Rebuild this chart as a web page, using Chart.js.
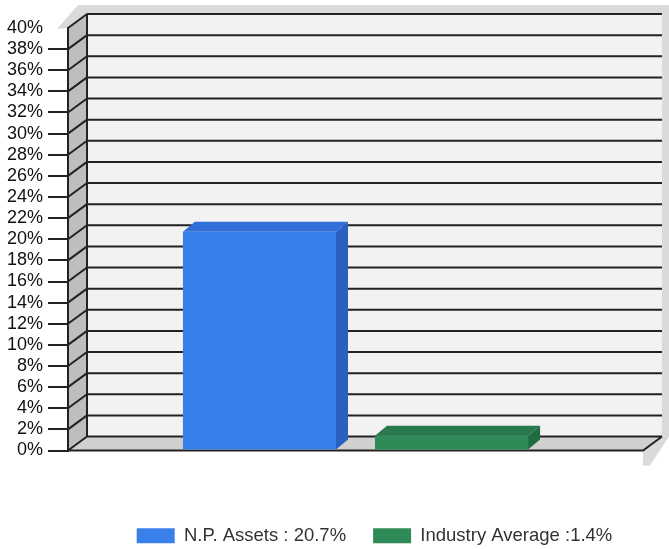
<!DOCTYPE html>
<html>
<head>
<meta charset="utf-8">
<script src="https://cdn.jsdelivr.net/npm/chart.js@4"></script>
<style>
  html, body { margin: 0; padding: 0; background: #fff; }
</style>
</head>
<body>
<canvas id="returnChart" width="669" height="549"></canvas>
<script>
// data
const categories = ['N.P. Assets'];
const seriesLabels = ['N.P. Assets : 20.7%', 'Industry Average :1.4%'];
const npAssets = [20.7];
const industryAverage = [1.4];
const yMin = 0;
const yMax = 40;
const yStep = 2;

// 3D depth of the box and of the bars
const wallDx = 19, wallDy = -14;
const barDx = 12, barDy = -10;
const lineColor = '#222';

const boxPlugin = {
    id: 'box3d',
    afterLayout(chart) {
        // nudge legend to where the original sits
        const lg = chart.legend;
        lg.left += 53; lg.right += 53;
        lg.top += 6; lg.bottom += 6;
    },
    beforeDraw(chart) {
        const ctx = chart.ctx;
        const a = chart.chartArea;
        const y = chart.scales.y;
        const L = a.left, R = a.right, T = a.top, B = a.bottom;

        ctx.save();
        // soft shadow around the box
        ctx.fillStyle = '#dadada';
        ctx.beginPath();
        ctx.moveTo(L - 11, T + 1);
        ctx.lineTo(L + 10, T + wallDy - 9);
        ctx.lineTo(669, T + wallDy - 9);
        ctx.lineTo(669, B + wallDy);
        ctx.lineTo(R + 7, B + 15);
        ctx.lineTo(R, B + 15);
        ctx.lineTo(R, B);
        ctx.lineTo(L, B);
        ctx.lineTo(L, T);
        ctx.closePath();
        ctx.fill();

        // back wall
        ctx.fillStyle = '#f2f2f2';
        ctx.fillRect(L + wallDx, T + wallDy, R - L, B - T);

        // left wall
        ctx.fillStyle = '#bebebe';
        ctx.beginPath();
        ctx.moveTo(L, B);
        ctx.lineTo(L, T);
        ctx.lineTo(L + wallDx, T + wallDy);
        ctx.lineTo(L + wallDx, B + wallDy);
        ctx.closePath();
        ctx.fill();

        // floor
        ctx.fillStyle = '#d0d0d0';
        ctx.beginPath();
        ctx.moveTo(L, B);
        ctx.lineTo(R, B);
        ctx.lineTo(R + wallDx, B + wallDy);
        ctx.lineTo(L + wallDx, B + wallDy);
        ctx.closePath();
        ctx.fill();

        ctx.strokeStyle = lineColor;
        ctx.lineWidth = 2;
        ctx.beginPath();
        for (let v = yMin; v <= yMax; v += yStep) {
            const py = y.getPixelForValue(v);
            // grid on back wall
            ctx.moveTo(L + wallDx, py + wallDy);
            ctx.lineTo(R + wallDx, py + wallDy);
            // diagonal on left wall
            ctx.moveTo(L, py);
            ctx.lineTo(L + wallDx, py + wallDy);
        }
        // back wall left edge
        ctx.moveTo(L + wallDx, T + wallDy);
        ctx.lineTo(L + wallDx, B + wallDy);
        // floor front edge and right diagonal
        ctx.moveTo(L, B);
        ctx.lineTo(R, B);
        ctx.lineTo(R + wallDx, B + wallDy);
        ctx.stroke();
        ctx.restore();
    },
    afterDatasetsDraw(chart) {
        const ctx = chart.ctx;
        chart.data.datasets.forEach((ds, i) => {
            const meta = chart.getDatasetMeta(i);
            meta.data.forEach(bar => {
                const l = bar.x - bar.width / 2, r = bar.x + bar.width / 2;
                const top = bar.y, base = bar.base;
                ctx.save();
                // side
                ctx.fillStyle = ds.sideColor;
                ctx.beginPath();
                ctx.moveTo(r, top);
                ctx.lineTo(r + barDx, top + barDy);
                ctx.lineTo(r + barDx, base + barDy);
                ctx.lineTo(r, base);
                ctx.closePath();
                ctx.fill();
                // top
                ctx.fillStyle = ds.topColor;
                ctx.beginPath();
                ctx.moveTo(l, top);
                ctx.lineTo(l + barDx, top + barDy);
                ctx.lineTo(r + barDx, top + barDy);
                ctx.lineTo(r, top);
                ctx.closePath();
                ctx.fill();
                ctx.restore();
            });
        });
    }
};

new Chart(document.getElementById('returnChart'), {
    type: 'bar',
    data: {
        labels: categories,
        datasets: [
            {
                label: seriesLabels[0],
                data: npAssets,
                backgroundColor: '#3a80ea',
                sideColor: '#2a60c2',
                topColor: '#306fd8',
                borderWidth: 0,
                categoryPercentage: 0.668,
                barPercentage: 0.797
            },
            {
                label: seriesLabels[1],
                data: industryAverage,
                backgroundColor: '#2e8b57',
                sideColor: '#216b42',
                topColor: '#277a4b',
                borderWidth: 0,
                categoryPercentage: 0.668,
                barPercentage: 0.797
            }
        ]
    },
    options: {
        responsive: false,
        animation: false,
        layout: { padding: { top: 28, right: 26, left: 0, bottom: 0 } },
        plugins: {
            tooltip: { enabled: false },
            legend: {
                position: 'bottom',
                labels: {
                    boxWidth: 38,
                    boxHeight: 15,
                    padding: 27,
                    color: '#333',
                    font: { family: 'Liberation Sans, Arial, sans-serif', size: 18.5 }
                }
            }
        },
        scales: {
            x: {
                grid: { display: false },
                border: { display: false },
                ticks: { display: false },
                afterFit(scale) { scale.height = 43; }
            },
            y: {
                min: yMin,
                max: yMax,
                ticks: {
                    stepSize: yStep,
                    autoSkip: false,
                    padding: 5,
                    color: '#111',
                    font: { family: 'Liberation Sans, Arial, sans-serif', size: 18 },
                    callback: v => v + '%'
                },
                grid: {
                    drawOnChartArea: false,
                    drawTicks: true,
                    tickLength: 20,
                    lineWidth: 2,
                    color: c => (c.tick && c.tick.value === yMax) ? 'rgba(0,0,0,0)' : lineColor
                },
                border: { display: true, color: lineColor, width: 2 },
                afterFit(scale) { scale.width = 68; }
            }
        }
    },
    plugins: [boxPlugin]
});
</script>
</body>
</html>
